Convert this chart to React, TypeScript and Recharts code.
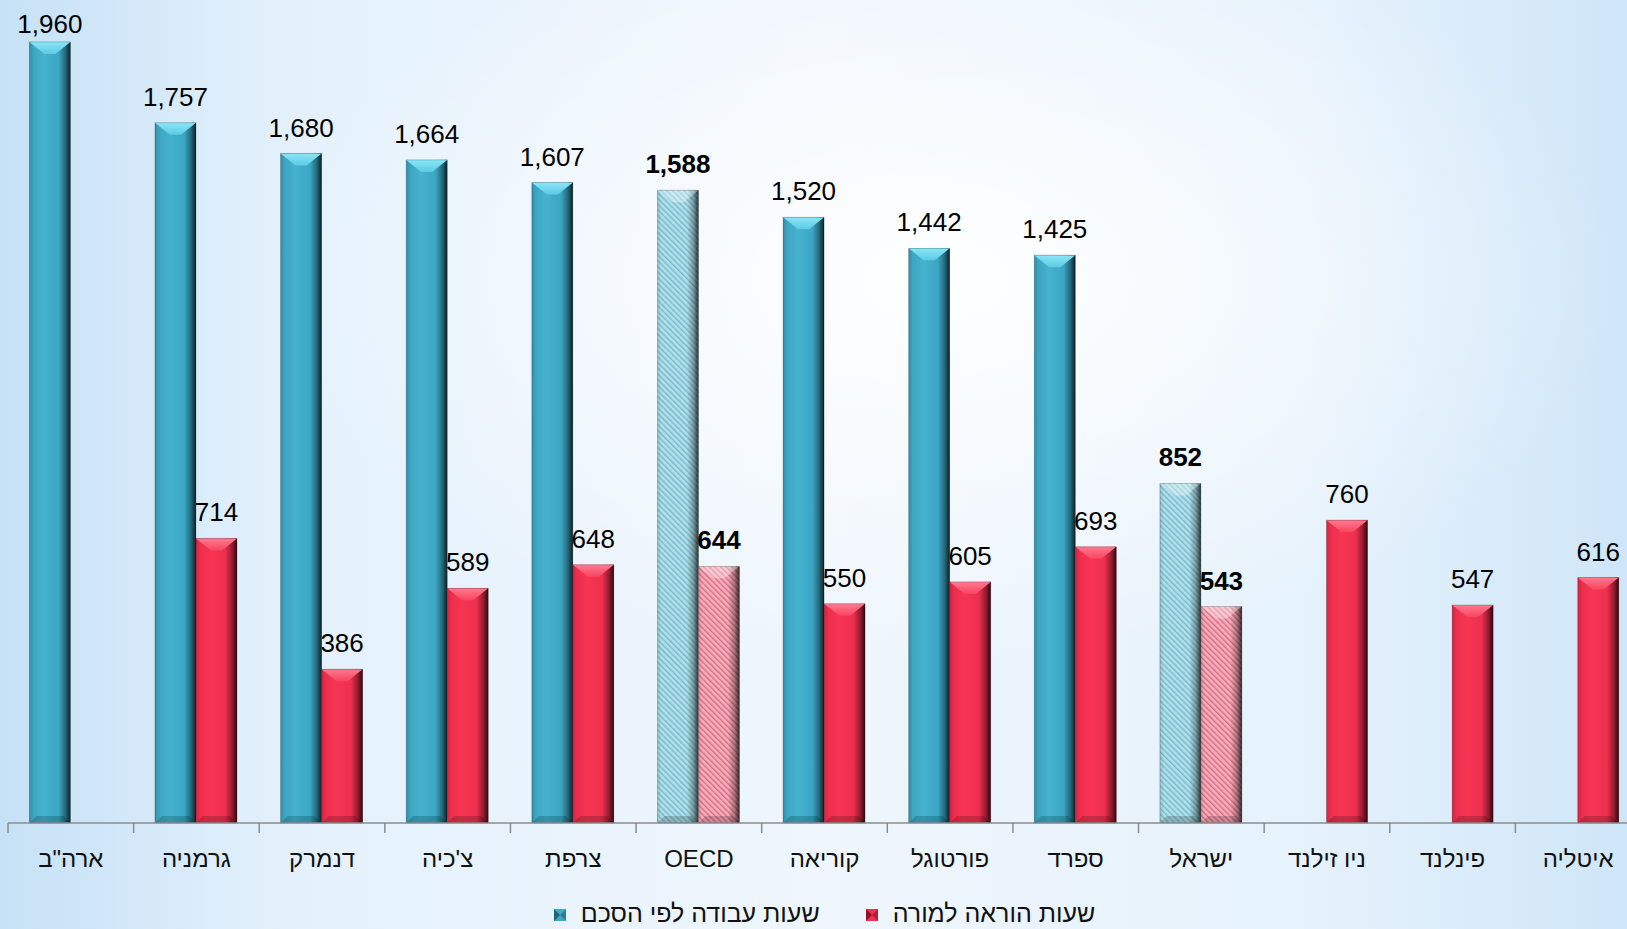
import React from 'react'
import { Bar, BarChart, LabelList, Legend, XAxis, YAxis } from 'recharts'

const countries = ['ארה"ב', 'גרמניה', 'דנמרק', "צ'כיה", 'צרפת', 'OECD', 'קוריאה', 'פורטוגל', 'ספרד', 'ישראל', 'ניו זילנד', 'פינלנד', 'איטליה']
const workHours = [1960, 1757, 1680, 1664, 1607, 1588, 1520, 1442, 1425, 852, null, null, null]
const teachHours = [null, 714, 386, 589, 648, 644, 550, 605, 693, 543, 760, 547, 616]
const highlighted = ['OECD', 'ישראל']
const workLabel = 'שעות עבודה לפי הסכם'
const teachLabel = 'שעות הוראה למורה'

const data = countries.map((name, i) => ({ name, work: workHours[i], teach: teachHours[i] }))

const W = 1660
const H = 929
const MARGIN = { top: 26, right: 19, left: 8, bottom: 0 }
const XAXIS_H = 56
const LEGEND_H = 50
const AXIS_Y = H - MARGIN.bottom - XAXIS_H - LEGEND_H
const BAND = (W - MARGIN.left - MARGIN.right) / countries.length
const FONT = "'Liberation Sans', Arial, 'DejaVu Sans', sans-serif"

const colors = {
  work: { body: 'url(#blueBody)', top: 'url(#blueTop)', hatch: 'url(#blueHatch)' },
  teach: { body: 'url(#redBody)', top: 'url(#redTop)', hatch: 'url(#redHatch)' },
}

const bevelShape = (kind: 'work' | 'teach') => (props: any) => {
  const { x, y, width: w, height: h, payload } = props
  if (!h || h <= 0 || !w) return null
  const c = colors[kind]
  const hi = highlighted.includes(payload?.name)
  const b = Math.min(12, w / 2, h / 2)
  const bb = Math.min(7, w / 2, h / 2)
  return (
    <g>
      <rect x={x} y={y} width={w} height={h} fill={hi ? c.hatch : c.body} />
      <rect x={x} y={y} width={w} height={h} fill="url(#edgeShade)" />
      <polygon
        points={`${x},${y} ${x + w},${y} ${x + w - b - 3},${y + b} ${x + b + 3},${y + b}`}
        fill={hi ? 'rgba(255,255,255,0.35)' : c.top}
      />
      <polygon
        points={`${x},${y + h} ${x + w},${y + h} ${x + w - bb},${y + h - bb} ${x + bb},${y + h - bb}`}
        fill="rgba(0,0,0,0.18)"
      />
      <rect x={x} y={y} width={w} height={h} fill="none" stroke="rgba(0,0,0,0.25)" strokeWidth={0.8} />
    </g>
  )
}

const renderValue = (props: any) => {
  const { x, y, width, value } = props
  if (value == null) return null
  const cx = Number(x) + Number(width) / 2
  const cat = Math.floor((cx - MARGIN.left) / BAND)
  const bold = highlighted.includes(countries[cat])
  const ty = Math.max(Number(y) - 17, 33)
  return (
    <text
      x={cx}
      y={ty}
      textAnchor="middle"
      fontSize={26}
      fontFamily={FONT}
      fontWeight={bold ? 'bold' : 'normal'}
      fill="#000"
    >
      {Number(value).toLocaleString('en-US')}
    </text>
  )
}

const CategoryTick = (props: any) => {
  const { x, payload, index } = props
  const left = x - BAND / 2
  return (
    <g>
      <line x1={left} y1={AXIS_Y} x2={left} y2={AXIS_Y + 10} stroke="#8c8c8c" strokeWidth={1.5} />
      {index === countries.length - 1 && (
        <line x1={x + BAND / 2} y1={AXIS_Y} x2={x + BAND / 2} y2={AXIS_Y + 10} stroke="#8c8c8c" strokeWidth={1.5} />
      )}
      <text x={x} y={AXIS_Y + 44} textAnchor="middle" fontSize={24} fontFamily={FONT} fill="#111">
        {payload.value}
      </text>
    </g>
  )
}

const Marker = ({ color, dark }: { color: string; dark: string }) => (
  <svg width={12} height={12} style={{ marginBottom: 6 }}>
    <rect x={0} y={0} width={12} height={12} fill={color} />
    <polygon points="0,0 6,6 0,12" fill={dark} />
    <polygon points="12,0 6,6 12,12" fill={dark} opacity={0.6} />
  </svg>
)

const LegendContent = () => (
  <div
    style={{
      height: LEGEND_H,
      display: 'flex',
      alignItems: 'flex-end',
      justifyContent: 'center',
      paddingBottom: 2,
      boxSizing: 'border-box',
      fontFamily: FONT,
      fontSize: 25,
      color: '#111',
      lineHeight: '28px',
    }}
  >
    <Marker color="#3faac7" dark="#1d6478" />
    <span style={{ marginLeft: 15 }}>{workLabel}</span>
    <span style={{ marginLeft: 46, display: 'flex', alignItems: 'flex-end' }}>
      <Marker color="#f2304f" dark="#8a1426" />
      <span style={{ marginLeft: 15 }}>{teachLabel}</span>
    </span>
  </div>
)

export default function App() {
  return (
    <div
      style={{
        position: 'fixed',
        left: 0,
        top: 0,
        width: 1627,
        height: 929,
        overflow: 'hidden',
        background:
          'radial-gradient(ellipse 55% 55% at 58% 30%, rgba(255,255,255,0.95), rgba(255,255,255,0) 75%), linear-gradient(to right, #c6e1f6 0%, #e4f1fc 18%, #eff6fd 50%, #e6f2fc 80%, #cfe6f8 100%)',
      }}
    >
      <BarChart width={W} height={H} data={data} margin={MARGIN} barCategoryGap="17%" barGap={0}>
        <defs>
          <linearGradient id="edgeShade" x1="0" y1="0" x2="1" y2="0">
            <stop offset="0%" stopColor="#000" stopOpacity={0.12} />
            <stop offset="10%" stopColor="#000" stopOpacity={0} />
            <stop offset="72%" stopColor="#000" stopOpacity={0} />
            <stop offset="88%" stopColor="#000" stopOpacity={0.3} />
            <stop offset="100%" stopColor="#000" stopOpacity={0.75} />
          </linearGradient>
          <linearGradient id="blueBody" x1="0" y1="0" x2="1" y2="0">
            <stop offset="0%" stopColor="#3aa0bd" />
            <stop offset="35%" stopColor="#45b2cf" />
            <stop offset="70%" stopColor="#3ba7c4" />
            <stop offset="100%" stopColor="#2f8aa3" />
          </linearGradient>
          <linearGradient id="redBody" x1="0" y1="0" x2="1" y2="0">
            <stop offset="0%" stopColor="#e82a4a" />
            <stop offset="35%" stopColor="#f73553" />
            <stop offset="70%" stopColor="#ef2f4e" />
            <stop offset="100%" stopColor="#c82340" />
          </linearGradient>
          <linearGradient id="blueTop" x1="0" y1="0" x2="0" y2="1">
            <stop offset="0%" stopColor="#8ae6f8" />
            <stop offset="100%" stopColor="#5ccbe4" />
          </linearGradient>
          <linearGradient id="redTop" x1="0" y1="0" x2="0" y2="1">
            <stop offset="0%" stopColor="#ff7a90" />
            <stop offset="100%" stopColor="#f8445f" />
          </linearGradient>
          <pattern id="blueHatch" width={4} height={4} patternUnits="userSpaceOnUse" patternTransform="rotate(-45)">
            <rect width={4} height={4} fill="#b3e0ea" />
            <rect width={1.4} height={4} fill="#74b9ca" />
          </pattern>
          <pattern id="redHatch" width={4} height={4} patternUnits="userSpaceOnUse" patternTransform="rotate(-45)">
            <rect width={4} height={4} fill="#f6b0bd" />
            <rect width={1.4} height={4} fill="#d9697f" />
          </pattern>
        </defs>
        <XAxis
          dataKey="name"
          height={XAXIS_H}
          axisLine={{ stroke: '#8c8c8c', strokeWidth: 1.5 }}
          tickLine={false}
          tick={<CategoryTick />}
          interval={0}
        />
        <YAxis hide domain={[0, 2000]} />
        <Legend content={<LegendContent />} wrapperStyle={{ height: LEGEND_H }} />
        <Bar dataKey="work" name={workLabel} fill="#3faac7" shape={bevelShape('work')} isAnimationActive={false}>
          <LabelList dataKey="work" content={renderValue} />
        </Bar>
        <Bar dataKey="teach" name={teachLabel} fill="#f2304f" shape={bevelShape('teach')} isAnimationActive={false}>
          <LabelList dataKey="teach" content={renderValue} />
        </Bar>
      </BarChart>
    </div>
  )
}
